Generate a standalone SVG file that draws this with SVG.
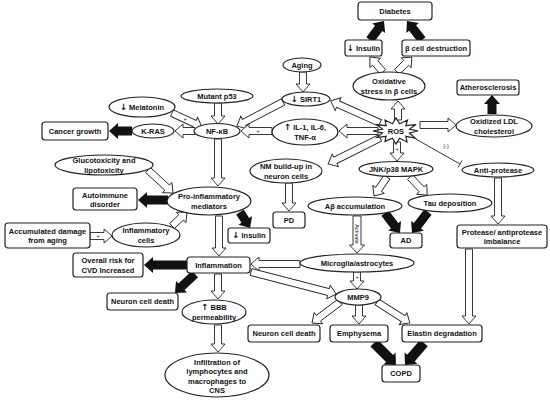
<svg xmlns="http://www.w3.org/2000/svg" width="550" height="402" viewBox="0 0 550 402">
<style>
.n{fill:#fff;stroke:#222;stroke-width:1.2}
.t{font-family:"Liberation Sans",Arial,sans-serif;font-size:7.5px;font-weight:bold;fill:#111;text-anchor:middle}
.a{font-family:"DejaVu Sans",sans-serif;font-size:8.5px;font-weight:bold}
.h{fill:#fff;stroke:#222;stroke-width:0.9}
.b{fill:#111}
.p{font-family:"Liberation Sans",Arial,sans-serif;font-size:5.5px;fill:#111;text-anchor:middle}
.il{stroke:#222;stroke-width:0.9;fill:none}
</style>
<rect width="550" height="402" fill="#fff"/>
<g id="connectors">
<polygon class="h" transform="translate(383,72) rotate(-130.9)" points="0,-3.5 12,-3.5 12,-7 20,0 12,7 12,3.5 0,3.5"/>
<polygon class="h" transform="translate(397,72) rotate(-45)" points="0,-3.5 13,-3.5 13,-7 21,0 13,7 13,3.5 0,3.5"/>
<polygon class="h" transform="translate(398,120) rotate(-90)" points="0,-3.5 11,-3.5 11,-7 19,0 11,7 11,3.5 0,3.5"/>
<polygon class="h" transform="translate(420,125)" points="0,-3.5 28,-3.5 28,-7 36,0 28,7 28,3.5 0,3.5"/>
<polygon class="h" transform="translate(303,72) rotate(90)" points="0,-3.5 12,-3.5 12,-7 20,0 12,7 12,3.5 0,3.5"/>
<polygon class="h" transform="translate(218,103) rotate(90)" points="0,-3.5 13,-3.5 13,-7 21,0 13,7 13,3.5 0,3.5"/>
<polygon class="h" transform="translate(172,113) rotate(25)" points="0,-3.5 25,-3.5 25,-7 33,0 25,7 25,3.5 0,3.5"/>
<polygon class="h" transform="translate(283,102) rotate(152.4)" points="0,-3.5 44,-3.5 44,-7 52,0 44,7 44,3.5 0,3.5"/>
<polygon class="h" transform="translate(272,131) rotate(180)" points="0,-3.5 23,-3.5 23,-7 31,0 23,7 23,3.5 0,3.5"/>
<polygon class="h" transform="translate(195,131) rotate(180)" points="0,-3.5 12,-3.5 12,-7 20,0 12,7 12,3.5 0,3.5"/>
<polygon class="h" transform="translate(378,131) rotate(180)" points="0,-3.5 31,-3.5 31,-7 39,0 31,7 31,3.5 0,3.5"/>
<polygon class="h" transform="translate(380,123) rotate(-155.8)" points="0,-3.5 46,-3.5 46,-7 54,0 46,7 46,3.5 0,3.5"/>
<polygon class="h" transform="translate(380,138) rotate(153.4)" points="0,-3.5 50,-3.5 50,-7 58,0 50,7 50,3.5 0,3.5"/>
<polygon class="h" transform="translate(218,139) rotate(90)" points="0,-3.5 39,-3.5 39,-7 47,0 39,7 39,3.5 0,3.5"/>
<polygon class="h" transform="translate(289,183) rotate(90)" points="0,-3.5 20,-3.5 20,-7 28,0 20,7 20,3.5 0,3.5"/>
<polygon class="h" transform="translate(397,142) rotate(90)" points="0,-3.5 11,-3.5 11,-7 19,0 11,7 11,3.5 0,3.5"/>
<polygon class="h" transform="translate(387,177) rotate(124.4)" points="0,-3.5 15,-3.5 15,-7 23,0 15,7 15,3.5 0,3.5"/>
<polygon class="h" transform="translate(410,177) rotate(46.6)" points="0,-3.5 17,-3.5 17,-7 25,0 17,7 17,3.5 0,3.5"/>
<polygon class="h" transform="translate(498,178) rotate(90)" points="0,-3.5 38,-3.5 38,-7 46,0 38,7 38,3.5 0,3.5"/>
<polygon class="h" transform="translate(469,249) rotate(90)" points="0,-3.5 67,-3.5 67,-7 75,0 67,7 67,3.5 0,3.5"/>
<polygon class="h" transform="translate(357,216) rotate(90)" points="0,-4 29,-4 29,-7.5 37,0 29,7.5 29,4 0,4"/>
<polygon class="h" transform="translate(300,264) rotate(180)" points="0,-3.5 41,-3.5 41,-7 49,0 41,7 41,3.5 0,3.5"/>
<polygon class="h" transform="translate(357,272) rotate(90)" points="0,-3.5 9,-3.5 9,-7 17,0 9,7 9,3.5 0,3.5"/>
<polygon class="h" transform="translate(251,272) rotate(14.5)" points="0,-3.5 80,-3.5 80,-7 88,0 80,7 80,3.5 0,3.5"/>
<polygon class="h" transform="translate(340,302) rotate(143.1)" points="0,-3.5 27,-3.5 27,-7 35,0 27,7 27,3.5 0,3.5"/>
<polygon class="h" transform="translate(359,305) rotate(90)" points="0,-3.5 11,-3.5 11,-7 19,0 11,7 11,3.5 0,3.5"/>
<polygon class="h" transform="translate(377,302) rotate(32.5)" points="0,-3.5 31,-3.5 31,-7 39,0 31,7 31,3.5 0,3.5"/>
<polygon class="h" transform="translate(219,216) rotate(90)" points="0,-3.5 32,-3.5 32,-7 40,0 32,7 32,3.5 0,3.5"/>
<polygon class="h" transform="translate(218,274) rotate(90)" points="0,-3.5 17,-3.5 17,-7 25,0 17,7 17,3.5 0,3.5"/>
<polygon class="h" transform="translate(218,325) rotate(90)" points="0,-3.5 19,-3.5 19,-7 27,0 19,7 19,3.5 0,3.5"/>
<polygon class="h" transform="translate(148,170) rotate(42.6)" points="0,-3.5 26,-3.5 26,-7 34,0 26,7 26,3.5 0,3.5"/>
<polygon class="h" transform="translate(90,236)" points="0,-3.5 14,-3.5 14,-7 22,0 14,7 14,3.5 0,3.5"/>
<polygon class="h" transform="translate(172,226) rotate(-43)" points="0,-3.5 12.5,-3.5 12.5,-7 20.5,0 12.5,7 12.5,3.5 0,3.5"/>
<polygon class="b" transform="translate(370,40) rotate(-53.6)" points="0,-4.5 14.6,-4.5 14.6,-8 23.6,0 14.6,8 14.6,4.5 0,4.5"/>
<polygon class="b" transform="translate(422,40) rotate(-128.3)" points="0,-4.5 15.2,-4.5 15.2,-8 24.2,0 15.2,8 15.2,4.5 0,4.5"/>
<polygon class="b" transform="translate(492,114) rotate(-90)" points="0,-4.5 10,-4.5 10,-8 19,0 10,8 10,4.5 0,4.5"/>
<polygon class="b" transform="translate(132,131) rotate(180)" points="0,-4.5 14,-4.5 14,-8 23,0 14,8 14,4.5 0,4.5"/>
<polygon class="b" transform="translate(168,200) rotate(180)" points="0,-4.5 21,-4.5 21,-8 30,0 21,8 21,4.5 0,4.5"/>
<polygon class="b" transform="translate(240,212) rotate(58)" points="0,-4.5 10,-4.5 10,-8 19,0 10,8 10,4.5 0,4.5"/>
<polygon class="b" transform="translate(187,265) rotate(180)" points="0,-4.5 34,-4.5 34,-8 43,0 34,8 34,4.5 0,4.5"/>
<polygon class="b" transform="translate(195,274) rotate(136.5)" points="0,-4.5 18.6,-4.5 18.6,-8 27.6,0 18.6,8 18.6,4.5 0,4.5"/>
<polygon class="b" transform="translate(385,213) rotate(53.1)" points="0,-4.5 16,-4.5 16,-8 25,0 16,8 16,4.5 0,4.5"/>
<polygon class="b" transform="translate(428,212) rotate(127.3)" points="0,-4.5 17.4,-4.5 17.4,-8 26.4,0 17.4,8 17.4,4.5 0,4.5"/>
<polygon class="b" transform="translate(374,343) rotate(45)" points="0,-5 22,-5 22,-8.5 31,0 22,8.5 22,5 0,5"/>
<polygon class="b" transform="translate(424,343) rotate(130.8)" points="0,-5 20,-5 20,-8.5 29,0 20,8.5 20,5 0,5"/>
<line class="il" x1="414" y1="138" x2="460" y2="164"/>
<line class="il" x1="458" y1="167.5" x2="462" y2="160.5"/>
<text class="p" x="446" y="148">(-)</text>
<text class="p" x="185" y="120.5">+</text>
<text class="p" x="258" y="133">+</text>
<text class="p" x="397" y="150.5">+</text>
<text class="p" x="357" y="279">+</text>
<text class="p" x="98" y="238">+</text>
<text class="p" transform="translate(355.2,234) rotate(90)">Activate</text>
</g>
<g id="diabetes"><rect class="n" x="358" y="2" width="74" height="18" rx="3"/><text class="t" x="395" y="13.7">Diabetes</text></g>
<g id="insulin-top"><rect class="n" x="345" y="40" width="37" height="16" rx="2.5"/><text class="t" x="363.5" y="50.7"><tspan class="a">↓</tspan> Insulin</text></g>
<g id="beta-cell"><rect class="n" x="402" y="40" width="68" height="16" rx="2.5"/><text class="t" x="436" y="50.7">β cell destruction</text></g>
<g id="atherosclerosis"><rect class="n" x="457" y="80" width="62" height="15" rx="2.5"/><text class="t" x="488" y="90.2">Atherosclerosis</text></g>
<g id="cancer"><rect class="n" x="42" y="122" width="66" height="18" rx="3"/><text class="t" x="75" y="133.7">Cancer growth</text></g>
<g id="autoimmune"><rect class="n" x="73" y="188" width="64" height="22" rx="3"/><text class="t" x="105" y="197.5">Autoimmune</text><text class="t" x="105" y="206.5">disorder</text></g>
<g id="accumulated"><rect class="n" x="5" y="223" width="85" height="25" rx="3"/><text class="t" x="47.5" y="233.5">Accumulated damage</text><text class="t" x="47.5" y="243">from aging</text></g>
<g id="overall-risk"><rect class="n" x="73" y="253" width="70" height="24" rx="3"/><text class="t" x="108" y="263">Overall risk for</text><text class="t" x="108" y="272.5">CVD Increased</text></g>
<g id="neuron-death-left"><rect class="n" x="107" y="293" width="71" height="17" rx="3"/><text class="t" x="142.5" y="304.2">Neuron cell death</text></g>
<g id="inflammation"><rect class="n" x="187" y="257" width="63" height="16" rx="3"/><text class="t" x="218.5" y="267.7">Inflammation</text></g>
<g id="insulin-low"><rect class="n" x="228" y="228" width="42" height="15" rx="2.5"/><text class="t" x="249" y="238.2"><tspan class="a">↓</tspan> Insulin</text></g>
<g id="pd"><rect class="n" x="273" y="212" width="32" height="16" rx="3"/><text class="t" x="289" y="222.7">PD</text></g>
<g id="ad"><rect class="n" x="390" y="233" width="32" height="15" rx="3"/><text class="t" x="406" y="243.2">AD</text></g>
<g id="protease"><rect class="n" x="457" y="225" width="90" height="23" rx="3"/><text class="t" x="502" y="234.5">Protease/ antiprotease</text><text class="t" x="502" y="243.8">imbalance</text></g>
<g id="neuron-death-right"><rect class="n" x="248" y="325" width="72" height="17" rx="3"/><text class="t" x="284" y="336.2">Neuron cell death</text></g>
<g id="emphysema"><rect class="n" x="330" y="325" width="58" height="17" rx="3"/><text class="t" x="359" y="336.2">Emphysema</text></g>
<g id="elastin"><rect class="n" x="402" y="325" width="80" height="17" rx="3"/><text class="t" x="442" y="336.2">Elastin degradation</text></g>
<g id="copd"><rect class="n" x="382" y="365" width="38" height="17" rx="3"/><text class="t" x="401" y="376.2">COPD</text></g>
<g id="ros"><polygon class="n" points="418,131 409.5,133 415,138 405.9,136.3 407,142 399.6,138.2 396,144 392.4,138.2 385,141.4 386.1,136.3 376.9,137.5 382.5,132.9 373,131 382.5,129.1 377,124.5 386.1,125.7 385,120 392.4,123.8 396,118 399.6,123.8 407.5,120 405.9,125.7 416,124.5 409.5,129.1"/><text class="t" x="396" y="133.7">ROS</text></g>
<g id="oxidative-stress"><ellipse class="n" cx="389" cy="86" rx="36" ry="14"/><text class="t" x="389" y="84">Oxidative</text><text class="t" x="389" y="93.5">stress in β cells</text></g>
<g id="oxidized-ldl"><ellipse class="n" cx="494" cy="126" rx="38" ry="11"/><text class="t" x="494" y="124">Oxidized LDL</text><text class="t" x="494" y="133.5">cholesterol</text></g>
<g id="aging"><ellipse class="n" cx="302" cy="65" rx="19" ry="7"/><text class="t" x="302" y="67.7">Aging</text></g>
<g id="sirt1"><ellipse class="n" cx="306" cy="99" rx="24" ry="7"/><text class="t" x="306" y="101.7"><tspan class="a">↓</tspan> SIRT1</text></g>
<g id="mutant-p53"><ellipse class="n" cx="217" cy="96" rx="36" ry="7"/><text class="t" x="217" y="98.7">Mutant p53</text></g>
<g id="melatonin"><ellipse class="n" cx="142" cy="107" rx="33" ry="10"/><text class="t" x="142" y="109.7"><tspan class="a">↓</tspan> Melatonin</text></g>
<g id="nfkb"><ellipse class="n" cx="217" cy="131" rx="23" ry="7.5"/><text class="t" x="217" y="133.7">NF-κB</text></g>
<g id="kras"><ellipse class="n" cx="153" cy="131" rx="21" ry="7"/><text class="t" x="153" y="133.7">K-RAS</text></g>
<g id="il"><ellipse class="n" cx="305" cy="132" rx="33" ry="13"/><text class="t" x="305" y="130"><tspan class="a">↑</tspan> IL-1, IL-6,</text><text class="t" x="305" y="139.5">TNF-α</text></g>
<g id="nm"><ellipse class="n" cx="286" cy="171" rx="36" ry="12"/><text class="t" x="286" y="169">NM build-up in</text><text class="t" x="286" y="178.5">neuron cells</text></g>
<g id="jnk"><ellipse class="n" cx="396" cy="169" rx="37" ry="7.5"/><text class="t" x="396" y="171.7">JNK/p38 MAPK</text></g>
<g id="anti-protease"><ellipse class="n" cx="498" cy="170" rx="36" ry="7"/><text class="t" x="498" y="172.7">Anti-protease</text></g>
<g id="abeta"><ellipse class="n" cx="355" cy="206" rx="47" ry="9"/><text class="t" x="355" y="208.7">Aβ accumulation</text></g>
<g id="tau"><ellipse class="n" cx="450" cy="203" rx="42" ry="9"/><text class="t" x="450" y="205.7">Tau deposition</text></g>
<g id="pro-inflammatory"><ellipse class="n" cx="209" cy="201" rx="42" ry="14"/><text class="t" x="209" y="199">Pro-inflammatory</text><text class="t" x="209" y="208.5">mediators</text></g>
<g id="glucotoxicity"><ellipse class="n" cx="104" cy="165" rx="49" ry="10"/><text class="t" x="104" y="163">Glucotoxicity and</text><text class="t" x="104" y="172.5">lipotoxicity</text></g>
<g id="inflammatory-cells"><ellipse class="n" cx="146" cy="235" rx="34" ry="12"/><text class="t" x="146" y="233">Inflammatory</text><text class="t" x="146" y="242.5">cells</text></g>
<g id="microglia"><ellipse class="n" cx="357" cy="263" rx="57" ry="9"/><text class="t" x="357" y="265.7">Microglia/astrocytes</text></g>
<g id="mmp9"><ellipse class="n" cx="358" cy="297" rx="23" ry="8"/><text class="t" x="358" y="299.7">MMP9</text></g>
<g id="bbb"><ellipse class="n" cx="214" cy="312" rx="32" ry="12"/><text class="t" x="214" y="310"><tspan class="a">↑</tspan> BBB</text><text class="t" x="214" y="319.5">permeability</text></g>
<g id="infiltration"><ellipse class="n" cx="217" cy="375" rx="52" ry="22"/><text class="t" x="217" y="364.5">Infiltration of</text><text class="t" x="217" y="374">lymphocytes and</text><text class="t" x="217" y="383.5">macrophages to</text><text class="t" x="217" y="393">CNS</text></g>
</svg>
